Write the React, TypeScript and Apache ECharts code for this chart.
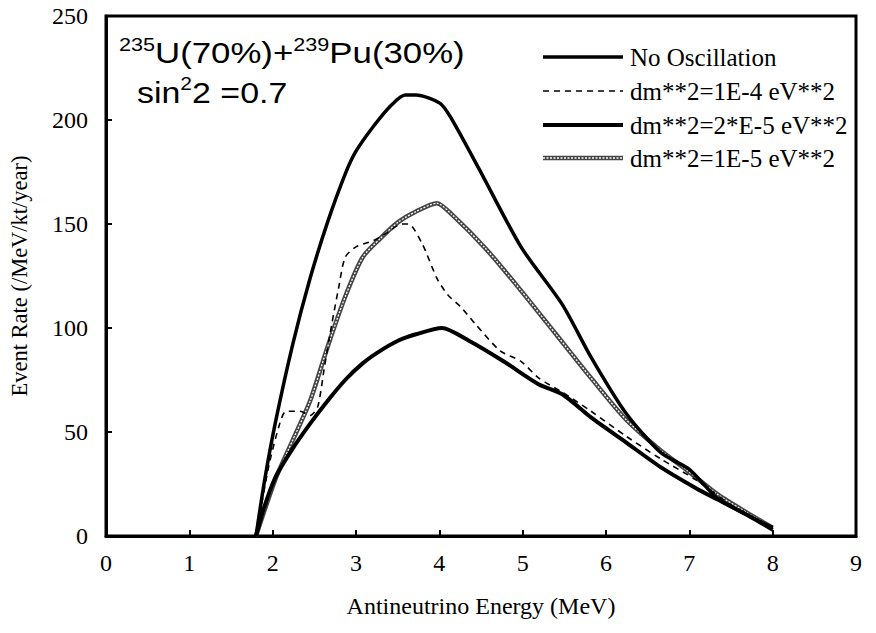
import React, { useEffect, useRef } from "react";
import * as echarts from "echarts";

// x-axis ticks (MeV) and y-axis ticks
const xTicks = [0, 1, 2, 3, 4, 5, 6, 7, 8, 9];
const yTicks = [0, 50, 100, 150, 200, 250];

const seriesNames = [
  "No Oscillation",
  "dm**2=1E-4 eV**2",
  "dm**2=2*E-5 eV**2",
  "dm**2=1E-5 eV**2",
];

// No Oscillation
const noOscE = [1.8, 1.9, 2.03, 2.24, 2.45, 2.66, 2.87, 3.0, 3.21, 3.42, 3.59, 3.72, 4.01, 4.14, 4.47, 4.98, 5.48, 5.82, 6.24, 6.66, 7.0, 7.34, 7.7, 8.0];
const noOscRate = [0, 26, 54, 92, 124, 151, 174, 185, 197, 207, 212, 212, 208, 201, 177, 139, 111, 86, 59, 40, 32, 18, 10, 4];

// dm^2 = 1E-4 eV^2 (dashed)
const dm1e4E = [1.8, 1.95, 2.07, 2.16, 2.33, 2.45, 2.54, 2.62, 2.71, 2.79, 2.87, 3.0, 3.21, 3.38, 3.55, 3.63, 3.8, 3.97, 4.1, 4.26, 4.43, 4.73, 4.98, 5.19, 5.48, 5.82, 6.24, 6.66, 7.08, 7.5, 8.0];
const dm1e4Rate = [0, 33, 52, 60, 60, 58, 62, 81, 102, 119, 134, 139, 142, 146, 150, 150, 140, 124, 116, 110, 102, 89, 84, 76, 69, 60, 48, 37, 27, 15, 3];

// dm^2 = 2E-5 eV^2 (thick solid)
const dm2e5E = [1.8, 1.9, 2.03, 2.24, 2.45, 2.66, 2.87, 3.08, 3.29, 3.51, 3.72, 4.03, 4.35, 4.77, 5.19, 5.48, 5.82, 6.24, 6.66, 7.08, 7.34, 7.7, 8.0];
const dm2e5Rate = [0, 14, 28, 42, 54, 65, 75, 83, 89, 94, 97, 100, 94, 84, 73, 68, 57, 45, 33, 23, 17.5, 10, 3];

// dm^2 = 1E-5 eV^2 (hatched grey)
const dm1e5E = [1.8, 2.03, 2.24, 2.45, 2.66, 2.87, 3.08, 3.29, 3.51, 3.72, 3.97, 4.14, 4.56, 4.98, 5.4, 5.82, 6.24, 6.66, 6.96, 7.34, 7.7, 8.0];
const dm1e5Rate = [0, 27, 46, 65, 91, 115, 134, 143, 151, 156, 160, 155, 138, 118, 97, 76, 56, 41, 32, 20, 11, 4];

const pairs = (xs: number[], ys: number[]) => xs.map((x, i) => [x, ys[i]]);

const SERIF = "'Liberation Serif', 'Times New Roman', serif";
const SANS = "'Liberation Sans', Arial, sans-serif";

// line styles (shared by series and legend samples)
const styleNoOsc = { color: "#000", width: 3.5 };
const styleDm1e4 = { color: "#000", width: 1.6, type: [6, 5] as number[] };
const styleDm2e5 = { color: "#000", width: 4 };
const styleDm1e5Base = { color: "#444", width: 4.5 };
const styleDm1e5Over = { color: "#fff", width: 1.3, type: [2, 1.5] as number[] };

export default function App() {
  const ref = useRef<HTMLDivElement>(null);

  useEffect(() => {
    if (!ref.current) return;
    const chart = echarts.init(ref.current, undefined, { renderer: "svg" });

    const axisCommon = {
      axisLine: { show: true, onZero: false, lineStyle: { color: "#000", width: 3 } },
      axisTick: { show: true, inside: true, length: 6, lineStyle: { color: "#000", width: 2 } },
      splitLine: { show: false },
    };

    // legend samples drawn as graphic lines + texts
    const legendX = 543;
    const legendLen = 80;
    const legendRows = [57, 91, 125, 158];
    const legendStyles = [
      [styleNoOsc],
      [styleDm1e4],
      [styleDm2e5],
      [styleDm1e5Base, styleDm1e5Over],
    ];
    const legendGraphics: any[] = [];
    seriesNames.forEach((name, i) => {
      const cy = legendRows[i];
      legendStyles[i].forEach((s: any) => {
        legendGraphics.push({
          type: "line",
          shape: { x1: legendX, y1: cy, x2: legendX + legendLen, y2: cy },
          style: { stroke: s.color, lineWidth: s.width, lineDash: s.type || null },
          z: 10,
        });
      });
      legendGraphics.push({
        type: "text",
        x: legendX + legendLen + 7,
        y: cy,
        style: {
          text: name,
          fill: "#000",
          font: `25px ${SERIF}`,
          verticalAlign: "middle",
          align: "left",
        },
        z: 10,
      });
    });

    const option = {
      animation: false,
      backgroundColor: "#fff",
      grid: {
        left: 106,
        right: 20,
        top: 16,
        bottom: 97,
        show: true,
        borderColor: "#000",
        borderWidth: 3,
        backgroundColor: "transparent",
      },
      xAxis: {
        type: "value",
        min: xTicks[0],
        max: xTicks[xTicks.length - 1],
        interval: 1,
        ...axisCommon,
        axisLabel: { color: "#000", fontFamily: SERIF, fontSize: 24, margin: 15 },
        name: "Antineutrino Energy (MeV)",
        nameLocation: "middle",
        nameGap: 58,
        nameTextStyle: { color: "#000", fontFamily: SERIF, fontSize: 24 },
      },
      yAxis: {
        type: "value",
        min: yTicks[0],
        max: yTicks[yTicks.length - 1],
        interval: 50,
        ...axisCommon,
        axisLabel: { color: "#000", fontFamily: SERIF, fontSize: 24, margin: 18 },
        name: "Event Rate (/MeV/kt/year)",
        nameLocation: "middle",
        nameGap: 75,
        nameTextStyle: { color: "#000", fontFamily: SERIF, fontSize: 22.5 },
      },
      series: [
        {
          name: seriesNames[0],
          type: "line",
          symbol: "none",
          smooth: 0.25,
          data: pairs(noOscE, noOscRate),
          lineStyle: styleNoOsc,
          itemStyle: { color: "#000" },
          z: 5,
        },
        {
          name: seriesNames[3],
          type: "line",
          symbol: "none",
          smooth: 0.25,
          data: pairs(dm1e5E, dm1e5Rate),
          lineStyle: styleDm1e5Base,
          itemStyle: { color: "#444" },
          z: 3,
        },
        {
          name: seriesNames[3],
          type: "line",
          symbol: "none",
          smooth: 0.25,
          data: pairs(dm1e5E, dm1e5Rate),
          lineStyle: styleDm1e5Over,
          itemStyle: { color: "#fff" },
          z: 4,
        },
        {
          name: seriesNames[2],
          type: "line",
          symbol: "none",
          smooth: 0.25,
          data: pairs(dm2e5E, dm2e5Rate),
          lineStyle: styleDm2e5,
          itemStyle: { color: "#000" },
          z: 5,
        },
        {
          name: seriesNames[1],
          type: "line",
          symbol: "none",
          smooth: 0.25,
          data: pairs(dm1e4E, dm1e4Rate),
          lineStyle: styleDm1e4,
          itemStyle: { color: "#000" },
          z: 6,
        },
      ],
      graphic: [
        {
          type: "text",
          x: 119,
          y: 36,
          scaleX: 1.2,
          style: {
            text: "{sup|235}{m|U(70%)+}{sup|239}{m|Pu(30%)}",
            fill: "#000",
            rich: {
              sup: { fontFamily: SANS, fontSize: 18, lineHeight: 18, verticalAlign: "top", fill: "#000" },
              m: { fontFamily: SANS, fontSize: 29, lineHeight: 32, verticalAlign: "bottom", fill: "#000" },
            },
          },
        },
        {
          type: "text",
          x: 137,
          y: 75,
          scaleX: 1.17,
          style: {
            text: "{m|sin}{sup|2}{m|2 =0.7}",
            fill: "#000",
            rich: {
              sup: { fontFamily: SANS, fontSize: 18, lineHeight: 18, verticalAlign: "top", fill: "#000" },
              m: { fontFamily: SANS, fontSize: 29, lineHeight: 32, verticalAlign: "bottom", fill: "#000" },
            },
          },
        },
        ...legendGraphics,
      ],
    };

    chart.setOption(option as any);
    return () => chart.dispose();
  }, []);

  return (
    <div
      ref={ref}
      style={{ position: "absolute", left: 0, top: 0, width: 876, height: 633 }}
    />
  );
}
